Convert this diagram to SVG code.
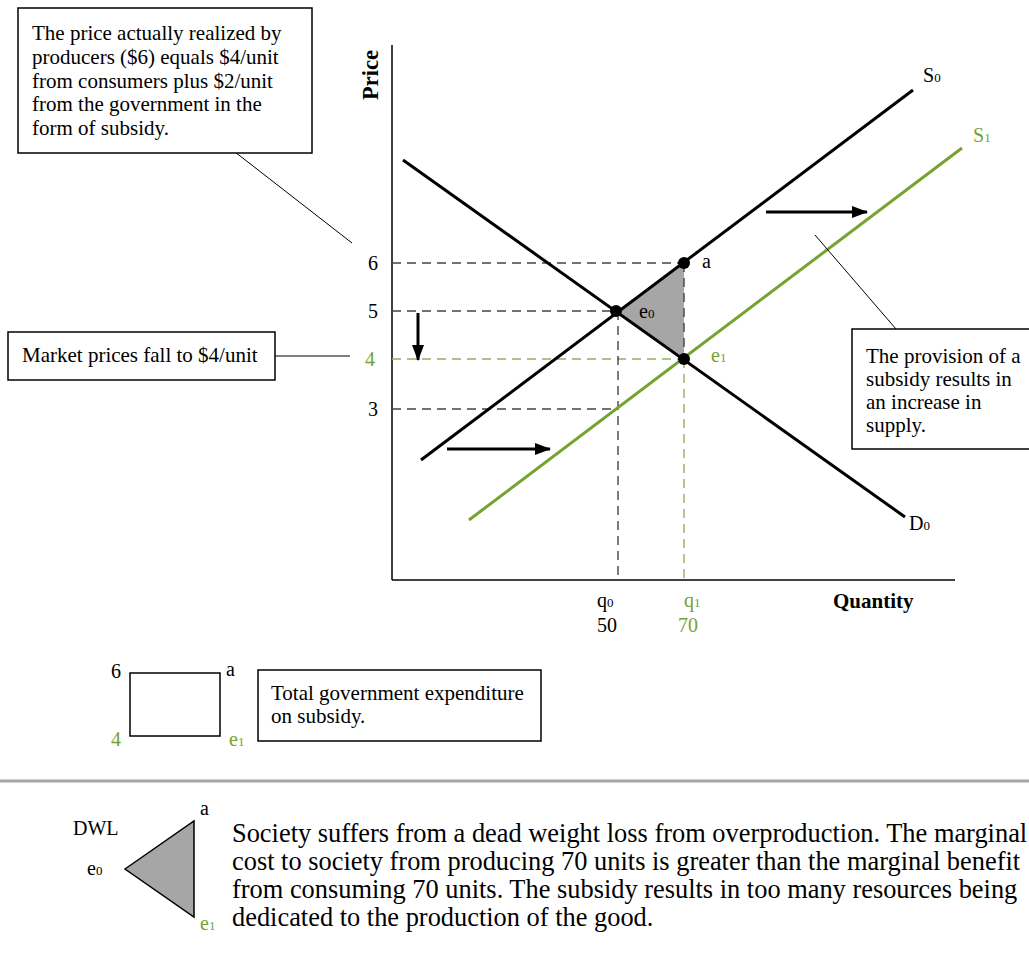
<svg xmlns="http://www.w3.org/2000/svg" width="1029" height="953" viewBox="0 0 1029 953">
<defs>
<marker id="ahs" markerWidth="16" markerHeight="12" refX="15" refY="6" orient="auto" markerUnits="userSpaceOnUse" viewBox="0 0 16 12"><path d="M0,0 L16,6 L0,12 Z" fill="#000"/></marker>
</defs>
<style>
text{font-family:"Liberation Serif","Times New Roman",serif;fill:#000}
.t21{font-size:21px}
.t20{font-size:20px}
.g{fill:#77a22f}
.b{font-weight:bold}
.box{fill:#fff;stroke:#000;stroke-width:1.5}
.curve{stroke-width:3;fill:none}
.dash{stroke:#444;stroke-width:1.4;stroke-dasharray:9 6;fill:none}
.gdash{stroke:#8db35a;stroke-width:1.4;stroke-dasharray:9 6;fill:none}
.lead{stroke:#000;stroke-width:1;fill:none}
.sub{font-size:13px}
.para{font-size:26.4px}
</style>
<rect width="1029" height="953" fill="#fff"/>

<g id="axes">
<line x1="392" y1="45" x2="392" y2="580" stroke="#000" stroke-width="1.5"/>
<line x1="392" y1="580" x2="955" y2="580" stroke="#000" stroke-width="1.5"/>
<text class="b" style="font-size:22.5px" transform="translate(378,100) rotate(-90)">Price</text>
<text class="t21 b" x="833" y="608">Quantity</text>
</g>

<g id="dwl-area">
<polygon points="616,311 684,263 684,359" fill="#a6a6a6"/>
</g>

<g id="connectors">
<line class="dash" x1="392" y1="263" x2="684" y2="263"/>
<line class="dash" x1="392" y1="311" x2="616" y2="311"/>
<line class="gdash" x1="392" y1="359" x2="684" y2="359"/>
<line class="dash" x1="392" y1="409" x2="618" y2="409"/>
<line class="dash" x1="618" y1="311" x2="618" y2="580"/>
<line class="dash" x1="684" y1="263" x2="684" y2="359"/>
<line class="gdash" x1="684" y1="359" x2="684" y2="580"/>
<line class="curve" x1="421" y1="460" x2="913" y2="90" stroke="#000"/>
<line class="curve" x1="469" y1="520" x2="962" y2="148" stroke="#77a22f"/>
<line class="curve" x1="403" y1="160" x2="905" y2="517" stroke="#000"/>
<line x1="418" y1="313" x2="418" y2="360" stroke="#000" stroke-width="3" marker-end="url(#ahs)"/>
<line x1="447" y1="449" x2="550" y2="449" stroke="#000" stroke-width="3" marker-end="url(#ahs)"/>
<line x1="766" y1="212" x2="867" y2="212" stroke="#000" stroke-width="3" marker-end="url(#ahs)"/>
<line class="lead" x1="235" y1="152" x2="352" y2="243"/>
<line class="lead" x1="275" y1="356" x2="350" y2="356"/>
<line class="lead" x1="815" y1="235" x2="896" y2="329"/>
</g>

<g id="points">
<circle cx="616" cy="311" r="6" fill="#000"/>
<circle cx="684" cy="263" r="6" fill="#000"/>
<circle cx="684" cy="359" r="6" fill="#000"/>
</g>

<g id="labels">
<text class="t20" x="368" y="270">6</text>
<text class="t20" x="368" y="318">5</text>
<text class="t20 g" x="365" y="366">4</text>
<text class="t20" x="368" y="416">3</text>
<text class="t20" x="702" y="268">a</text>
<text class="t20" x="639" y="318">e<tspan class="sub">0</tspan></text>
<text class="t20 g" x="711" y="362">e<tspan class="sub">1</tspan></text>
<text class="t20" x="923" y="82">S<tspan class="sub">0</tspan></text>
<text class="t20 g" x="973" y="142">S<tspan class="sub">1</tspan></text>
<text class="t20" x="909" y="530">D<tspan class="sub">0</tspan></text>
<text class="t20" x="597" y="607">q<tspan class="sub">0</tspan></text>
<text class="t20" x="597" y="632">50</text>
<text class="t20 g" x="684" y="607">q<tspan class="sub">1</tspan></text>
<text class="t20 g" x="678" y="632">70</text>
</g>

<g id="box-producers">
<rect class="box" x="18" y="8" width="294" height="145"/>
<text class="t21" x="32" y="40">The price actually realized by</text>
<text class="t21" x="32" y="64">producers ($6) equals $4/unit</text>
<text class="t21" x="32" y="88">from consumers plus $2/unit</text>
<text class="t21" x="32" y="111">from the government in the</text>
<text class="t21" x="32" y="135">form of subsidy.</text>
</g>

<g id="box-market">
<rect class="box" x="8" y="332" width="267" height="48"/>
<text class="t21" x="22" y="362">Market prices fall to $4/unit</text>
</g>

<g id="box-provision">
<rect class="box" x="852" y="329" width="185" height="120"/>
<text class="t21" x="866" y="363">The provision of a</text>
<text class="t21" x="866" y="386">subsidy results in</text>
<text class="t21" x="866" y="409">an increase in</text>
<text class="t21" x="866" y="432">supply.</text>
</g>

<g id="legend-rect">
<rect x="130" y="673" width="90" height="63" fill="#fff" stroke="#000" stroke-width="1.5"/>
<text class="t20" x="111" y="678">6</text>
<text class="t20" x="226" y="676">a</text>
<text class="t20 g" x="111" y="746">4</text>
<text class="t20 g" x="229" y="746">e<tspan class="sub">1</tspan></text>
</g>

<g id="box-expenditure">
<rect class="box" x="258" y="670" width="283" height="71"/>
<text class="t21" x="271" y="700">Total government expenditure</text>
<text class="t21" x="271" y="723">on subsidy.</text>
</g>

<g id="separator">
<line x1="0" y1="781" x2="1029" y2="781" stroke="#a6a6a6" stroke-width="3"/>
</g>

<g id="legend-dwl">
<polygon points="125,869 194,821 194,917" fill="#a6a6a6" stroke="#000" stroke-width="1.5"/>
<text class="t20" x="73" y="835">DWL</text>
<text class="t20" x="200" y="815">a</text>
<text class="t20" x="87" y="875">e<tspan class="sub">0</tspan></text>
<text class="t20 g" x="200" y="930">e<tspan class="sub">1</tspan></text>
</g>

<g id="dwl-text">
<text class="para" x="232" y="842">Society suffers from a dead weight loss from overproduction. The marginal</text>
<text class="para" x="232" y="870">cost to society from producing 70 units is greater than the marginal benefit</text>
<text class="para" x="232" y="898">from consuming 70 units. The subsidy results in too many resources being</text>
<text class="para" x="232" y="926">dedicated to the production of the good.</text>
</g>
</svg>
